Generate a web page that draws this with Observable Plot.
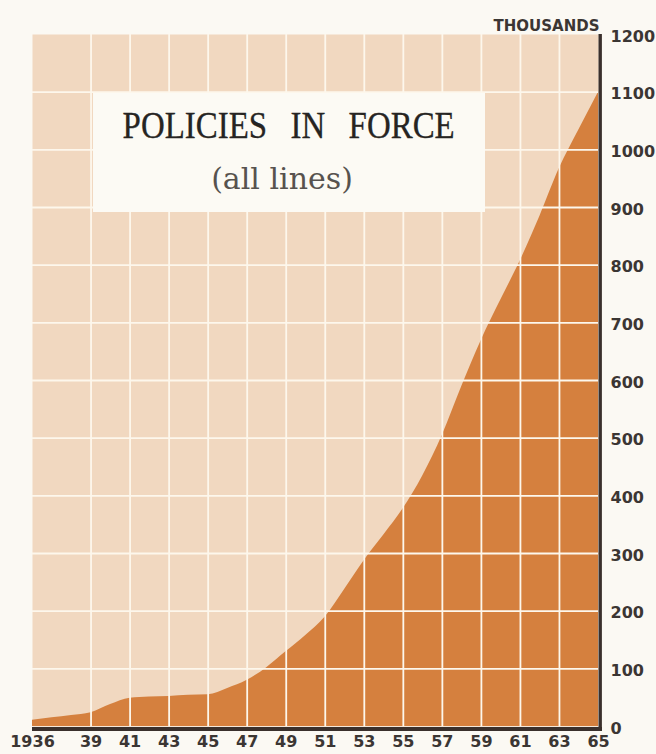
<!DOCTYPE html>
<html>
<head>
<meta charset="utf-8">
<script src="https://cdn.jsdelivr.net/npm/d3@7"></script>
<script src="https://cdn.jsdelivr.net/npm/@observablehq/plot@0.6"></script>
<style>
  html, body { margin: 0; padding: 0; background: #fbf9f3; }
  #wrap { position: relative; width: 656px; height: 754px; overflow: hidden; }
  #wrap svg { display: block; }
  g[aria-label="y-labels"] text { letter-spacing: 0.6px; }
  g[aria-label="x-labels"] text { letter-spacing: 0.3px; }
  g[aria-label="unit-label"] text { letter-spacing: 1.1px; }
  #titlebox { position: absolute; left: 93px; top: 93px; width: 392px; height: 119px; background: #fcfaf4; }
  #title { position: absolute; left: 0; width: 392px; top: 14px; text-align: center; font-family: "Liberation Serif", serif; font-size: 37px; line-height: 37px; color: #262422; white-space: nowrap; word-spacing: 17px; transform: scaleX(0.89); transform-origin: 193px 0; -webkit-text-stroke: 0.3px #262422; }
  #subtitle { position: absolute; left: 0; width: 392px; top: 71px; text-align: center; font-family: "DejaVu Serif", serif; font-size: 30px; line-height: 30px; color: #57524e; white-space: nowrap; transform: translateX(-7px); }
</style>
</head>
<body>
<div id="wrap">
  <div id="chart"></div>
  <div id="titlebox">
    <div id="title">POLICIES IN FORCE</div>
    <div id="subtitle">(all lines)</div>
  </div>
</div>
<script>
// Data (policies in force, thousands)
const years    = [1936, 1937, 1938, 1939, 1940, 1941, 1942, 1943, 1944, 1945, 1946, 1947, 1948, 1949, 1950, 1951, 1952, 1953, 1954, 1955, 1956, 1957, 1958, 1959, 1960, 1961, 1962, 1963, 1964, 1965];
const policies = [  11,   15,   19,   24,   38,   49,   51,   52,   54,   55,   66,   80,  102,  130,  158,  190,  238,  288,  332,  378,  435,  505,  590,  670,  740,  808,  885,  968, 1035, 1100];

const gridYears  = [1939, 1941, 1943, 1945, 1947, 1949, 1951, 1953, 1955, 1957, 1959, 1961, 1963];
const gridValues = [100, 200, 300, 400, 500, 600, 700, 800, 900, 1000, 1100];

const xTickYears  = [1936, 1939, 1941, 1943, 1945, 1947, 1949, 1951, 1953, 1955, 1957, 1959, 1961, 1963, 1965];
const xTickLabels = ["1936", "39", "41", "43", "45", "47", "49", "51", "53", "55", "57", "59", "61", "63", "65"];

const yTicks      = [0, 100, 200, 300, 400, 500, 600, 700, 800, 900, 1000, 1100, 1200];
const yTickLabels = ["0", "100", "200", "300", "400", "500", "600", "700", "800", "900", "1000", "1100", "1200"];

const unitLabel = ["THOUSANDS"];

const data = years.map((year, i) => ({year, value: policies[i]}));

const peach = "#f1d8c0";
const orange = "#d5803e";
const gridColor = "#fdf7ec";
const dark = "#3a302c";
const labelColor = "#3b3633";
const tickFont = "DejaVu Sans, sans-serif";

const chart = Plot.plot({
  width: 656,
  height: 754,
  marginTop: 34,
  marginBottom: 28,
  marginLeft: 32,
  marginRight: 58,
  style: {background: "transparent", overflow: "visible"},
  x: {domain: [1936, 1965], axis: null},
  y: {domain: [0, 1200], axis: null},
  marks: [
    Plot.frame({fill: peach, stroke: "none"}),
    Plot.areaY(data, {x: "year", y: "value", fill: orange, curve: "monotone-x"}),
    Plot.gridX(gridYears, {stroke: gridColor, strokeOpacity: 1, strokeWidth: 1.8}),
    Plot.gridY(gridValues, {stroke: gridColor, strokeOpacity: 1, strokeWidth: 1.8}),
    Plot.ruleY([0], {stroke: dark, strokeWidth: 4, dy: 2.5, insetRight: -4}),
    Plot.ruleX([1965], {stroke: dark, strokeWidth: 3.4, dx: 1.7, insetBottom: -4}),
    Plot.text(yTicks, {
      ariaLabel: "y-labels",
      y: d => d, frameAnchor: "right", dx: 12, dy: 2,
      textAnchor: "start", text: (d, i) => yTickLabels[i],
      fontFamily: tickFont, fontWeight: "bold", fontSize: 16, fill: labelColor
    }),
    Plot.text(xTickYears, {
      ariaLabel: "x-labels",
      x: d => d, frameAnchor: "bottom", dy: 20,
      text: (d, i) => xTickLabels[i],
      fontFamily: tickFont, fontWeight: "bold", fontSize: 16, fill: labelColor
    }),
    Plot.text(unitLabel, {
      ariaLabel: "unit-label",
      frameAnchor: "top-right", dy: -14, dx: 1, textAnchor: "end",
      text: d => d,
      fontFamily: tickFont, fontWeight: "bold", fontSize: 15, fill: labelColor
    })
  ]
});

document.getElementById("chart").appendChild(chart);
</script>
</body>
</html>
